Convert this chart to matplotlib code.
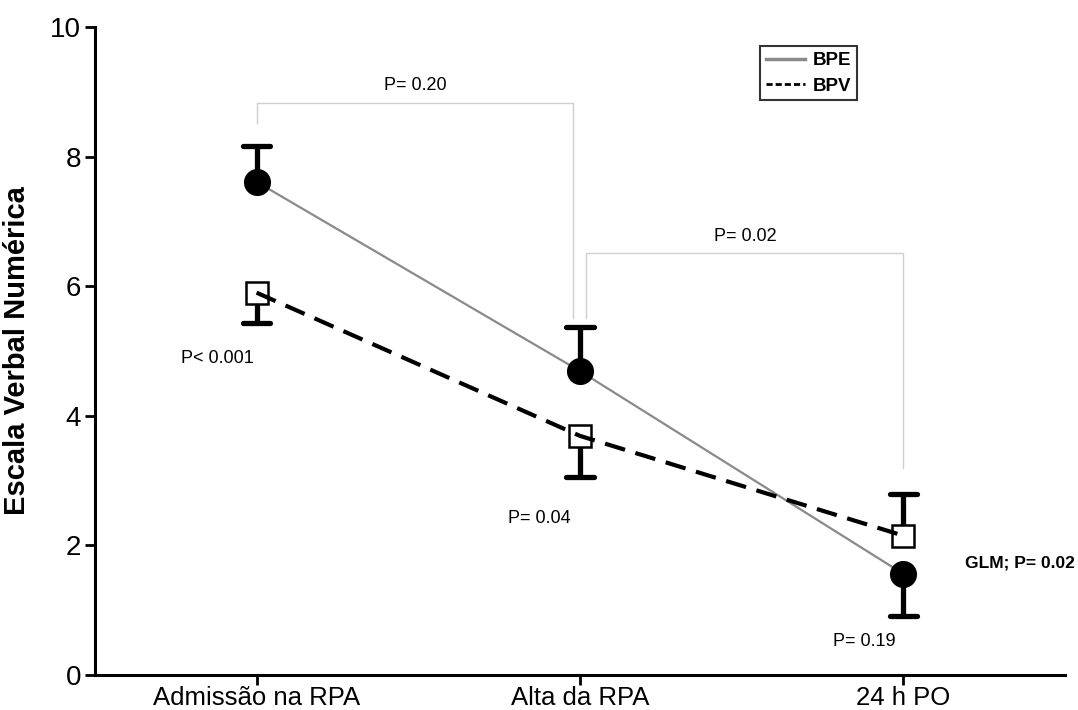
import matplotlib
matplotlib.use("Agg")
import matplotlib.pyplot as plt
from matplotlib.lines import Line2D

plt.rcParams['font.family'] = ['Liberation Sans', 'DejaVu Sans']

categories = ["Admissão na RPA", "Alta da RPA", "24 h PO"]
bpe_mean = [7.61, 4.69, 1.56]
bpe_err = [0.55, 0.68, 0.65]
bpe_dir = [1, 1, -1]
bpv_mean = [5.90, 3.69, 2.15]
bpv_err = [0.47, 0.63, 0.64]
bpv_dir = [-1, -1, 1]

brackets = [(0.0, 0.98, 8.83, 8.52, 5.51, "P= 0.20"),
            (1.02, 2.0, 6.51, 5.51, 3.19, "P= 0.02")]
pair_labels = ["P< 0.001", "P= 0.04", "P= 0.19"]
pair_label_pos = [(-0.12, 4.89), (0.875, 2.41), (1.88, 0.52)]
glm_label = "GLM; P= 0.02"

fig = plt.figure(figsize=(10.78, 7.10), dpi=100)
ax = fig.add_axes([0.088, 0.0493, 0.9, 0.9127])
x = list(range(len(categories)))

# error bars (one-sided)
def draw_err(means, errs, dirs):
    for xi, m, e, d in zip(x, means, errs, dirs):
        end = m + d * e
        ax.plot([xi, xi], [m, end], color='black', lw=3.8, solid_capstyle='butt', zorder=2)
        ax.plot([xi - 0.042, xi + 0.042], [end, end], color='black', lw=3.8,
                solid_capstyle='round', zorder=2)

draw_err(bpe_mean, bpe_err, bpe_dir)
draw_err(bpv_mean, bpv_err, bpv_dir)

# BPV squares then dashed line on top
ax.plot(x, bpv_mean, linestyle='none', marker='s', markersize=15.5, markerfacecolor='white',
        markeredgecolor='black', markeredgewidth=1.8, zorder=3)
ax.plot(x, bpv_mean, color='black', lw=3.0, linestyle=(0, (5, 2.6)), zorder=4)

# BPE line + circles
ax.plot(x, bpe_mean, color='#8a8a8a', lw=1.6, zorder=3)
ax.plot(x, bpe_mean, linestyle='none', marker='o', markersize=18.5, color='black', zorder=5)

# brackets
for x0, x1, ytop, yl, yr, lab in brackets:
    ax.plot([x0, x0, x1, x1], [yl, ytop, ytop, yr], color='#cfcfcf', lw=1.0, zorder=1)
    ax.text((x0 + x1) / 2, ytop + 0.26, lab, ha='center', va='center', fontsize=13)

for lab, (tx, ty) in zip(pair_labels, pair_label_pos):
    ax.text(tx, ty, lab, ha='center', va='center', fontsize=13)

ax.text(2.19, 1.73, glm_label, ha='left', va='center', fontsize=12.5, fontweight='bold')

ax.set_xlim(-0.5, 2.5)
ax.set_ylim(0, 10)
ax.set_xticks(x)
ax.set_xticklabels(categories, fontsize=18.5)
ax.set_yticks([0, 2, 4, 6, 8, 10])
ax.tick_params(axis='x', direction='out', length=7, width=2, labelsize=18.5, pad=1)
ax.tick_params(axis='y', direction='out', length=7, width=2, labelsize=20, pad=3)
for s in ['top', 'right']:
    ax.spines[s].set_visible(False)
for s in ['left', 'bottom']:
    ax.spines[s].set_linewidth(2.2)
ax.set_ylabel("Escala Verbal Numérica", fontsize=21, fontweight='bold', labelpad=14)

handles = [Line2D([0], [0], color='#8a8a8a', lw=2.5),
           Line2D([0], [0], color='black', lw=2, linestyle=(0, (2.2, 1.1)))]
leg = ax.legend(handles, ["BPE", "BPV"], loc='upper left', bbox_to_anchor=(0.686, 0.970),
                borderaxespad=0, fancybox=False, frameon=True, edgecolor='black',
                prop={'weight': 'bold', 'size': 13.5}, handlelength=2.1, handletextpad=0.4,
                borderpad=0.3, labelspacing=0.45)
leg.get_frame().set_linewidth(1.5)

fig.savefig("out.png", dpi=100)
